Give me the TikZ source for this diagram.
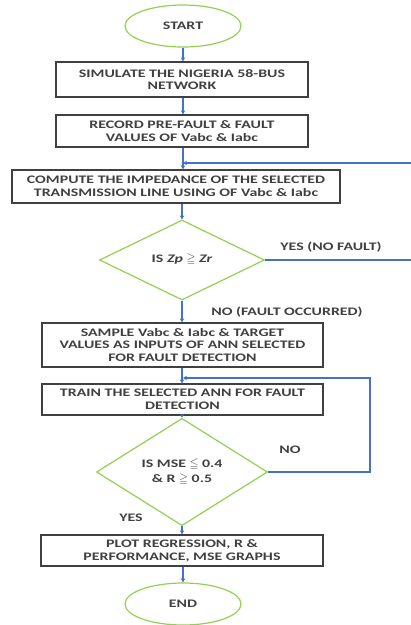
\documentclass[tikz,border=0pt]{standalone}
\usepackage{amssymb}
\usepackage{fontspec}
\setmainfont{Carlito}[FakeStretch=1.38]
\usetikzlibrary{arrows.meta,shapes.geometric,calc}
\definecolor{termgreen}{RGB}{146,208,80}
\definecolor{flowblue}{RGB}{68,114,196}
\definecolor{boxline}{RGB}{64,64,64}
\definecolor{txtcol}{RGB}{64,64,64}

\begin{document}
\begin{tikzpicture}[x=1pt,y=-1pt,
    every node/.style={font=\fontsize{11.5}{12.8}\selectfont\bfseries, text=txtcol},
    term/.style={ellipse, draw=termgreen, line width=1.2pt, minimum width=116pt, minimum height=42pt},
    procbox/.style={draw=boxline, line width=1.3pt, align=center, inner sep=0pt},
    decide/.style={diamond, draw=termgreen, line width=1.2pt, align=center, inner sep=0pt},
    flow/.style={draw=flowblue, line width=1.1pt, -{Stealth[length=4pt,width=4.5pt]}}]
  \useasboundingbox (0,0) rectangle (411,625);

  % main column
  \node[term] (start) at (183,26) {START};
  \node[procbox, minimum width=252pt, minimum height=35pt] (sim) at (182,79.5)
    {SIMULATE THE NIGERIA 58-BUS\\NETWORK};
  \node[procbox, minimum width=252pt, minimum height=32pt] (rec) at (182,131)
    {RECORD PRE-FAULT \& FAULT\\VALUES OF Vabc \& Iabc};
  \node[procbox, minimum width=328pt, minimum height=33pt] (imp) at (176,186.5)
    {COMPUTE THE IMPEDANCE OF THE SELECTED\\TRANSMISSION LINE USING OF Vabc \& Iabc};
  \node[decide, minimum width=165pt, minimum height=80pt] (zchk) at (182,260)
    {IS {\itshape Zp} $\geqq$ {\itshape Zr}};
  \node[procbox, minimum width=281pt, minimum height=44pt] (samp) at (182.5,345)
    {SAMPLE Vabc \& Iabc \& TARGET\\VALUES AS INPUTS OF ANN SELECTED\\FOR FAULT DETECTION};
  \node[procbox, minimum width=281pt, minimum height=31pt] (train) at (182.5,399.5)
    {TRAIN THE SELECTED ANN FOR FAULT\\DETECTION};
  \node[decide, minimum width=171pt, minimum height=91pt] (msechk) at (182,472)
    {IS MSE $\leqq$ 0.4\\[2pt]\& R $\geqq$ 0.5};
  \node[procbox, minimum width=282pt, minimum height=31pt] (plot) at (182,550.5)
    {PLOT REGRESSION, R \&\\PERFORMANCE, MSE GRAPHS};
  \node[term] (end) at (183,604) {END};

  % labels
  \node (yes1) at (331,247) {YES (NO FAULT)};
  \node (no1) at (287,312) {NO (FAULT OCCURRED)};
  \node (no2) at (290,450) {NO};
  \node (yes2) at (131,518) {YES};

  % joins of the loops
  \coordinate (loop1) at (183,163);
  \coordinate (loop2) at (183,378);

  \draw[flow] (start) -- (start |- sim.north);
  \draw[flow] (sim.south -| start) -- (start |- rec.north);
  \draw[flow] (rec.south -| start) -- (start |- imp.north);
  \draw[flow] (imp.south -| zchk) -- (zchk.north);
  \draw[flow] (zchk.south) -- (zchk |- samp.north);
  \draw[flow] (samp.south -| zchk) -- (zchk |- train.north);
  \draw[flow] (train.south -| msechk) -- (msechk.north);
  \draw[flow] (msechk.south) -- (msechk |- plot.north);
  \draw[flow] (plot.south -| end) -- (end.north);

  % back to the impedance step
  \draw[flow] (zchk.east) -- (418,260) |- (loop1);
  % back to training
  \draw[flow] (msechk.east) -- (370,472) |- (loop2);
\end{tikzpicture}
\end{document}
